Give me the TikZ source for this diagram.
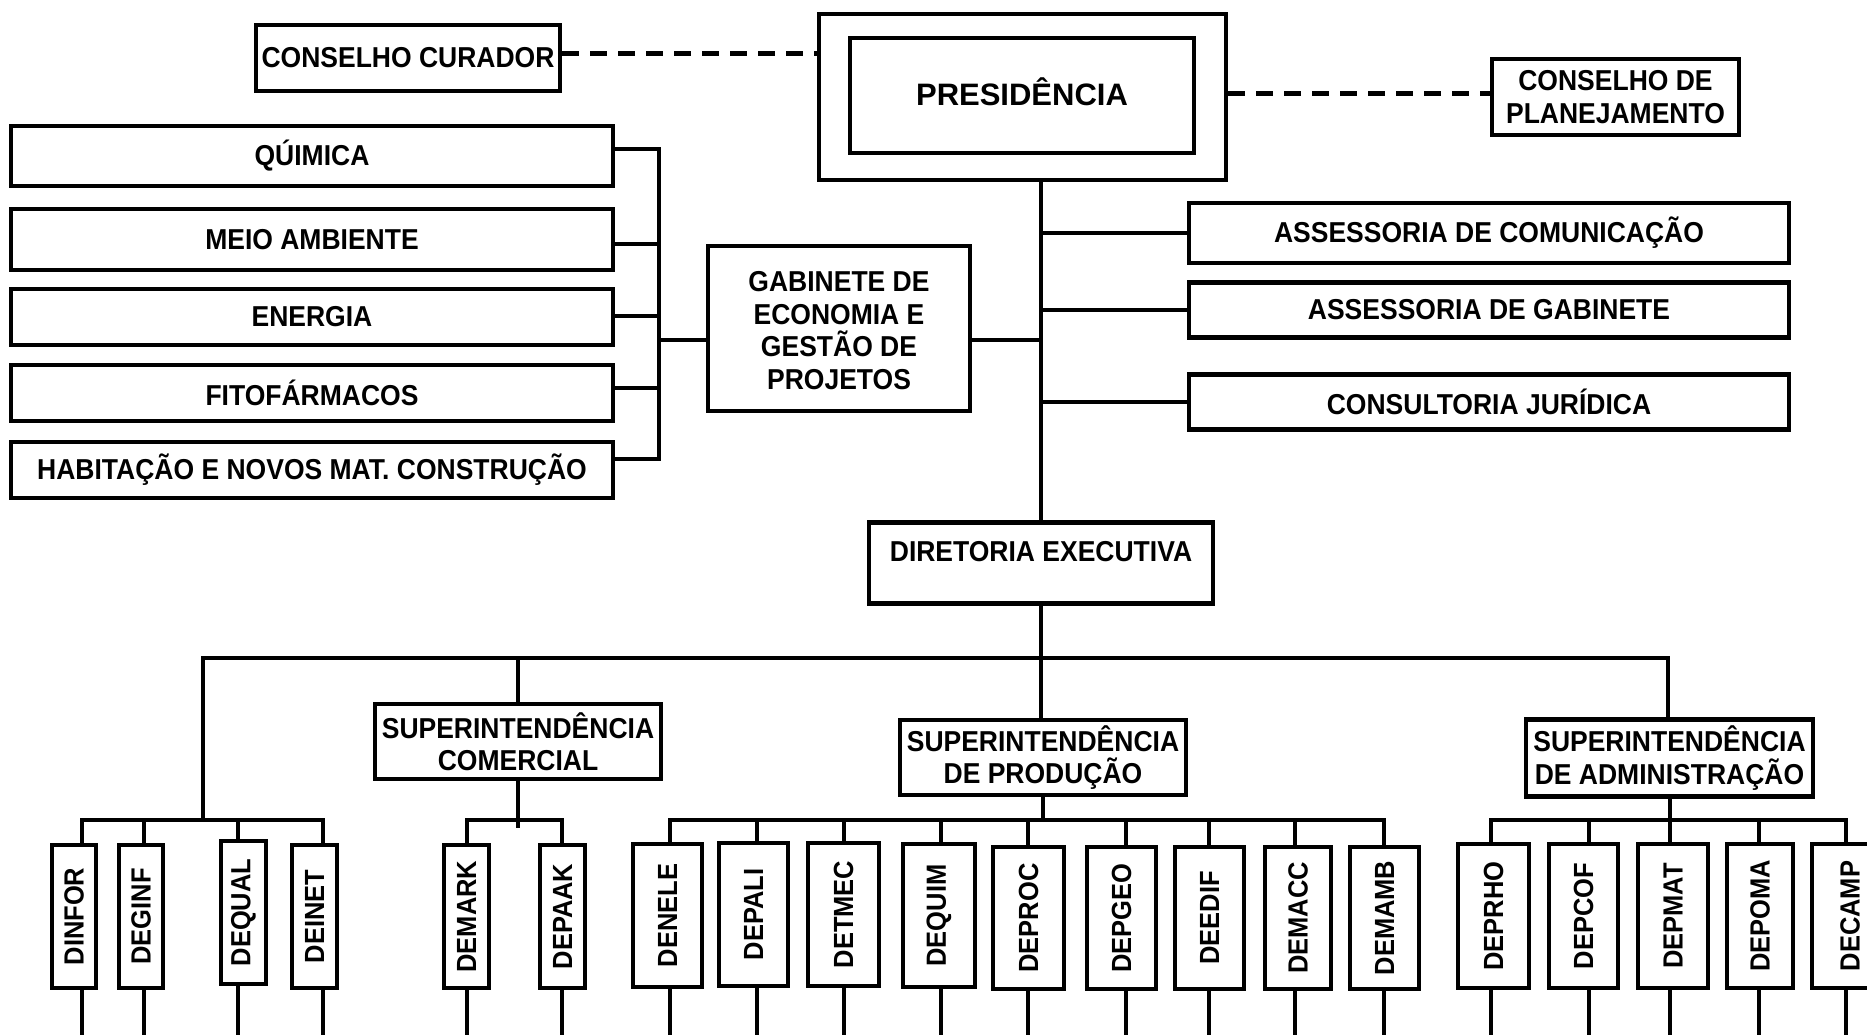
\documentclass[tikz,border=0pt]{standalone}
\usepackage{fontspec}
\setmainfont{Liberation Sans}
\newfontfamily\condfont{Liberation Sans}[FakeStretch=0.92]
\usepackage{graphicx}
\usetikzlibrary{calc}
\begin{document}
\begin{tikzpicture}[x=1pt,y=-1pt,
  orgbox/.style={draw, line width=4.5pt, inner sep=0pt, align=center, font=\condfont\fontsize{28.8pt}{32.5pt}\selectfont\bfseries},
  vbox/.style={draw, line width=4.5pt, inner sep=0pt, font=\condfont\fontsize{27.7pt}{30pt}\selectfont\bfseries},
  conn/.style={line width=4pt, line cap=rect},
  dashline/.style={line width=5pt, dash pattern=on 17pt off 11pt}]
\useasboundingbox (0,0) rectangle (1867,1034);
\fill[white] (0,0) rectangle (1867,1034);
\clip (0,0) rectangle (1867,1034);

% ---------- top ----------
\node[orgbox, minimum width=304pt, minimum height=66pt] (cc) at (408,58) {CONSELHO CURADOR};
\node[orgbox, minimum width=407pt, minimum height=166pt] (pres) at (1022.5,97) {};
\node[orgbox, minimum width=344pt, minimum height=115pt, text height=22.2pt, text depth=3pt, font=\fontsize{31pt}{36pt}\selectfont\bfseries] (presin) at (1022,95.5) {PRESIDÊNCIA};
\node[orgbox, minimum width=247pt, minimum height=76pt] (cp) at (1615.5,97) {CONSELHO DE\\PLANEJAMENTO};

\node[orgbox, minimum width=600pt, minimum height=60pt] (ac) at (1489,233) {ASSESSORIA DE COMUNICAÇÃO};
\node[orgbox, minimum width=600pt, minimum height=55pt] (ag) at (1489,310) {ASSESSORIA DE GABINETE};
\node[orgbox, minimum width=600pt, minimum height=55pt] (cj) at (1489,402) {CONSULTORIA JURÍDICA};

\node[orgbox, minimum width=262pt, minimum height=165pt] (gab) at (839,328.5) {\rule{0pt}{24pt}GABINETE DE\\ECONOMIA E\\GESTÃO DE\\PROJETOS};

\node[orgbox, minimum width=602pt, minimum height=60pt] (qui) at (312,156) {QÚIMICA};
\node[orgbox, minimum width=602pt, minimum height=61pt] (mei) at (312,239.5) {MEIO AMBIENTE};
\node[orgbox, minimum width=602pt, minimum height=56pt] (ene) at (312,317) {ENERGIA};
\node[orgbox, minimum width=602pt, minimum height=56pt] (fit) at (312,393) {FITOFÁRMACOS};
\node[orgbox, minimum width=602pt, minimum height=56pt] (hab) at (312,470) {HABITAÇÃO E NOVOS MAT. CONSTRUÇÃO};

\node[orgbox, minimum width=344pt, minimum height=81pt, text height=20.5pt, text depth=24pt] (dir) at (1041,563) {DIRETORIA EXECUTIVA};

\node[orgbox, minimum width=286pt, minimum height=75pt] (sc) at (518,741.5) {SUPERINTENDÊNCIA\\COMERCIAL};
\node[orgbox, minimum width=286pt, minimum height=75pt] (sp) at (1043,757.5) {SUPERINTENDÊNCIA\\DE PRODUÇÃO};
\node[orgbox, minimum width=287pt, minimum height=77pt] (sa) at (1669.5,758) {SUPERINTENDÊNCIA\\DE ADMINISTRAÇÃO};

% ---------- helper coordinates ----------
\coordinate (dl) at (0,53);
\coordinate (dr) at (0,93);
\coordinate (gy) at (0,340);
\coordinate (b1) at (659,149);
\coordinate (b2) at (659,244);
\coordinate (b3) at (659,316);
\coordinate (b4) at (659,388);
\coordinate (b5) at (659,459);
\coordinate (bg) at (659,340);
\coordinate (busL) at (203,658);
\coordinate (busR) at (1668,658);
\coordinate (sbus) at (0,820);
\coordinate (stub) at (0,826);
\coordinate (bot) at (0,1040);

% ---------- dashed links ----------
\draw[dashline] (cc.east |- dl) -- (pres.west |- dl);
\draw[dashline] (pres.east |- dr) -- (cp.west |- dr);

% ---------- trunk and staff ----------
\draw[conn] (pres.south -| dir.north) -- (dir.north);
\draw[conn] (ac.west) -- (ac.west -| dir.north);
\draw[conn] (ag.west) -- (ag.west -| dir.north);
\draw[conn] (cj.west) -- (cj.west -| dir.north);
\draw[conn] (gab.east |- gy) -- (dir.north |- gy);

% ---------- bracket ----------
\draw[conn] (b1) -- (b5);
\draw[conn] (qui.east |- b1) -- (b1);
\draw[conn] (mei.east |- b2) -- (b2);
\draw[conn] (ene.east |- b3) -- (b3);
\draw[conn] (fit.east |- b4) -- (b4);
\draw[conn] (hab.east |- b5) -- (b5);
\draw[conn] (bg) -- (gab.west |- bg);

% ---------- main bus ----------
\draw[conn] (dir.south) -- (dir.south |- sp.north);
\draw[conn] (busL) -- (busR);
\draw[conn] (busL) -- (busL |- sbus);
\draw[conn] (sc.north |- busL) -- (sc.north);
\draw[conn] (busR) -- (busR |- sa.north);
\draw[conn] (sc.south) -- (sc.south |- stub);
\draw[conn] (sp.south) -- (sp.south |- sbus);
\draw[conn] (sa.south) -- (sa.south |- sbus);

% ---------- departments ----------
\foreach \nm/\cx/\w/\t/\b/\dx/\lab in {
  dinfor/74/48/843/990/82/DINFOR,
  deginf/141/48/843/990/144/DEGINF,
  dequal/243.5/49/839/986/238/DEQUAL,
  deinet/314.5/49/843/990/323/DEINET,
  demark/466.5/49/843/990/467/DEMARK,
  depaak/562.5/49/843/990/562/DEPAAK,
  denele/667.5/73/842/989/670/DENELE,
  depali/753.5/73/841/988/757/DEPALI,
  detmec/843.5/75/841/988/844/DETMEC,
  dequim/939/76/842/989/941/DEQUIM,
  deproc/1028.5/75/845/991/1028/DEPROC,
  depgeo/1121.5/73/845/991/1126/DEPGEO,
  deedif/1209.5/73/845/991/1209/DEEDIF,
  demacc/1298/70/845/991/1295/DEMACC,
  demamb/1384.5/73/845/991/1384/DEMAMB,
  deprho/1493.5/75/842/990/1491/DEPRHO,
  depcof/1583.5/73/842/990/1589/DEPCOF,
  depmat/1673/74/842/990/1670/DEPMAT,
  depoma/1760/70/842/990/1759/DEPOMA,
  decamp/1850/80/842/990/1846/DECAMP}{
  \pgfmathsetmacro\cy{(\t+\b)/2}
  \pgfmathsetmacro\hh{\b-\t-4}
  \pgfmathsetmacro\ww{\w-4}
  \pgfmathsetmacro\off{\dx-\cx}
  \node[vbox, minimum width=\ww pt, minimum height=\hh pt] (\nm) at (\cx,\cy) {\rotatebox{90}{\lab}};
  \coordinate (\nm-t) at ($(\nm.north)+(\off,0)$);
  \coordinate (\nm-b) at ($(\nm.south)+(\off,0)$);
  \draw[conn] (\nm-t) -- (\nm-t |- sbus);
  \draw[conn] (\nm-b) -- (\nm-b |- bot);
}

% ---------- sub-buses ----------
\draw[conn] (dinfor-t |- sbus) -- (deinet-t |- sbus);
\draw[conn] (demark-t |- sbus) -- (depaak-t |- sbus);
\draw[conn] (denele-t |- sbus) -- (demamb-t |- sbus);
\draw[conn] (deprho-t |- sbus) -- (decamp-t |- sbus);
\end{tikzpicture}
\end{document}
